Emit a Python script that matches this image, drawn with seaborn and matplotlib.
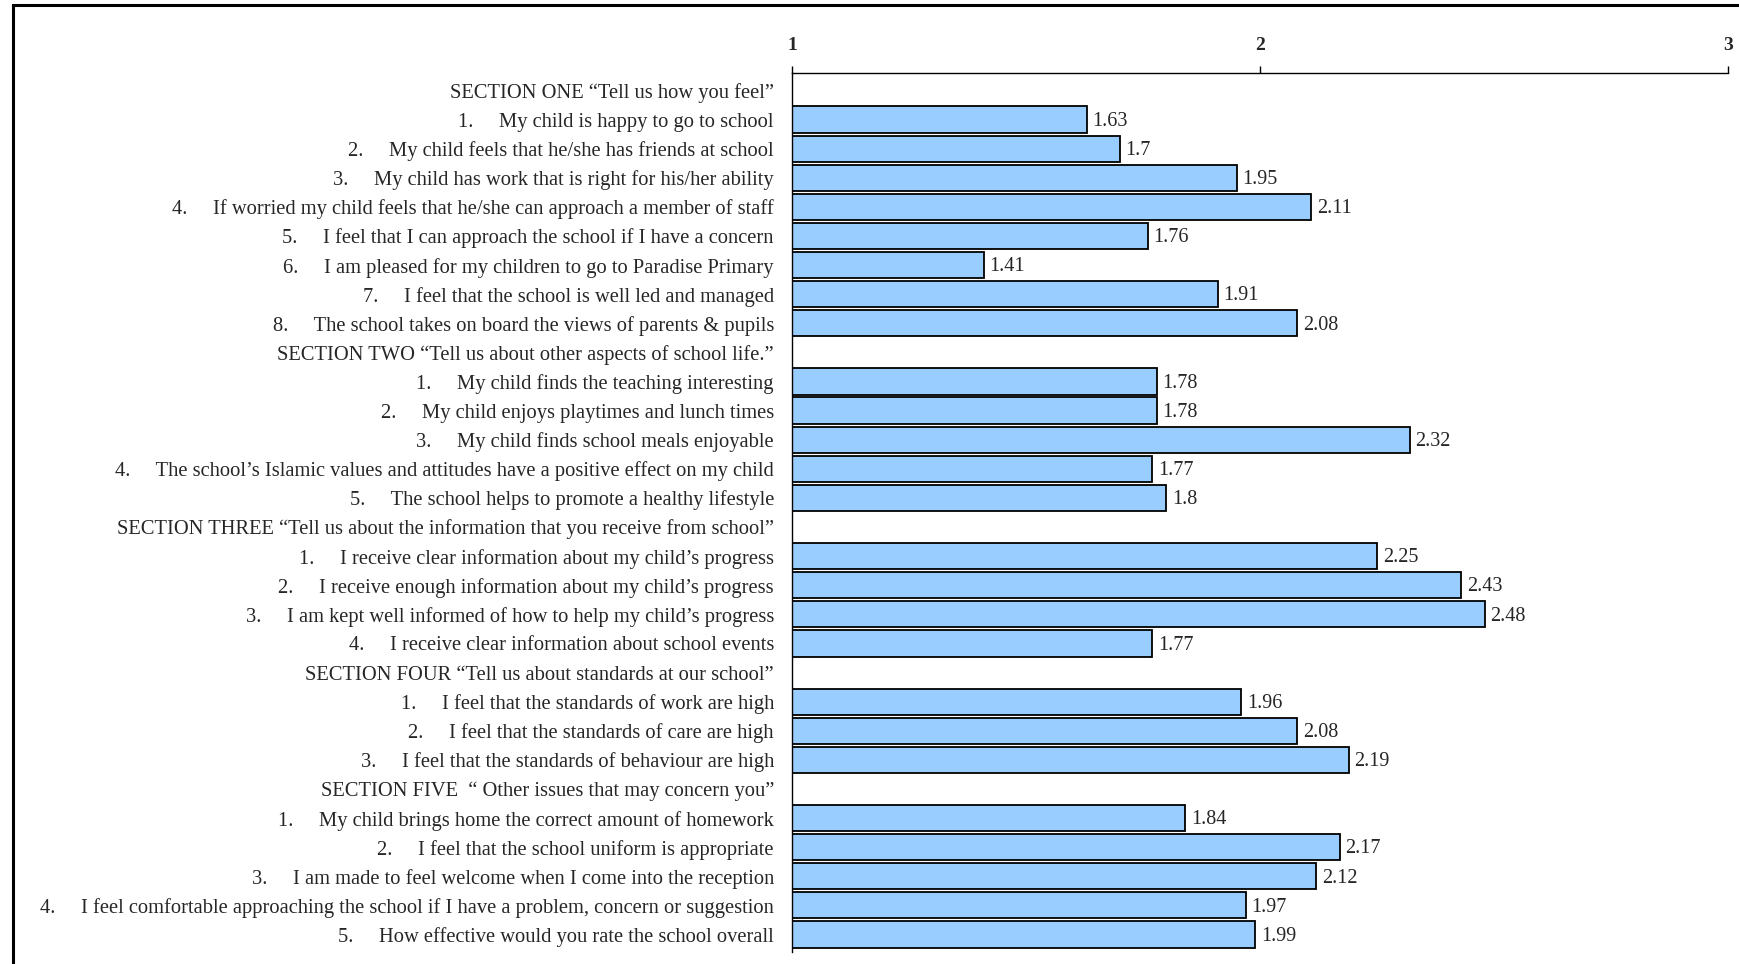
import numpy as np
import pandas as pd
import matplotlib
matplotlib.use("Agg")
import matplotlib.pyplot as plt
import seaborn as sns
from matplotlib.patches import Rectangle

# section headers and their questions, top to bottom
section_titles = [
    "SECTION ONE \u201cTell us how you feel\u201d",
    "SECTION TWO \u201cTell us about other aspects of school life.\u201d",
    "SECTION THREE \u201cTell us about the information that you receive from school\u201d",
    "SECTION FOUR \u201cTell us about standards at our school\u201d",
    "SECTION FIVE  \u201c Other issues that may concern you\u201d",
]

questions_one = [
    "My child is happy to go to school",
    "My child feels that he/she has friends at school",
    "My child has work that is right for his/her ability",
    "If worried my child feels that he/she can approach a member of staff",
    "I feel that I can approach the school if I have a concern",
    "I am pleased for my children to go to Paradise Primary",
    "I feel that the school is well led and managed",
    "The school takes on board the views of parents & pupils",
]
scores_one = [1.63, 1.7, 1.95, 2.11, 1.76, 1.41, 1.91, 2.08]

questions_two = [
    "My child finds the teaching interesting",
    "My child enjoys playtimes and lunch times",
    "My child finds school meals enjoyable",
    "The school\u2019s Islamic values and attitudes have a positive effect on my child",
    "The school helps to promote a healthy lifestyle",
]
scores_two = [1.78, 1.78, 2.32, 1.77, 1.8]

questions_three = [
    "I receive clear information about my child\u2019s progress",
    "I receive enough information about my child\u2019s progress",
    "I am kept well informed of how to help my child\u2019s progress",
    "I receive clear information about school events",
]
scores_three = [2.25, 2.43, 2.48, 1.77]

questions_four = [
    "I feel that the standards of work are high",
    "I feel that the standards of care are high",
    "I feel that the standards of behaviour are high",
]
scores_four = [1.96, 2.08, 2.19]

questions_five = [
    "My child brings home the correct amount of homework",
    "I feel that the school uniform is appropriate",
    "I am made to feel welcome when I come into the reception",
    "I feel comfortable approaching the school if I have a problem, concern or suggestion",
    "How effective would you rate the school overall",
]
scores_five = [1.84, 2.17, 2.12, 1.97, 1.99]

x_ticks = [1, 2, 3]

sections = [
    (questions_one, scores_one),
    (questions_two, scores_two),
    (questions_three, scores_three),
    (questions_four, scores_four),
    (questions_five, scores_five),
]

labels = []
scores = []
for title, (qs, vals) in zip(section_titles, sections):
    labels.append(title)
    scores.append(np.nan)
    for k, (q, v) in enumerate(zip(qs, vals)):
        labels.append(f"{k + 1}.     {q}")
        scores.append(v)

df = pd.DataFrame({"label": labels, "score": scores})

sns.set_theme(style="white")
plt.rcParams["font.family"] = ["Liberation Serif", "DejaVu Serif"]

fig = plt.figure(figsize=(17.4, 9.64), dpi=100)
ax = fig.add_axes([0.4552, 0.0125, 0.5379, 0.9118])

sns.barplot(data=df, x="score", y="label", order=labels, orient="h",
            color="#99CCFF", saturation=1, edgecolor="black", linewidth=1.3,
            width=0.9, ax=ax)

for i, v in enumerate(scores):
    if not np.isnan(v):
        ax.text(v + 0.012, i + 0.06, f"{v:g}", va="center", ha="left", fontsize=14.5)

ax.set_xlim(1, 3)
ax.set_ylim(len(labels) - 0.4, -0.6)
ax.set_xticks(x_ticks)
ax.set_xticklabels([str(t) for t in x_ticks], fontweight="bold", fontsize=14)
ax.xaxis.tick_top()
ax.tick_params(axis="x", direction="out", length=5, width=1, color="black",
               top=True, bottom=False, pad=9)
ax.tick_params(axis="y", length=0, pad=13, labelsize=14.8)
ax.set_xlabel("")
ax.set_ylabel("")
for s in ["right", "bottom"]:
    ax.spines[s].set_visible(False)
for s in ["top", "left"]:
    ax.spines[s].set_color("black")
    ax.spines[s].set_linewidth(1)

# outer frame, right and bottom edges run past the image
fig.patches.append(Rectangle((0.0075, -0.1), 1.2, 1.095, transform=fig.transFigure,
                             fill=False, edgecolor="black", linewidth=2.2))

fig.savefig("out.png", dpi=100)
